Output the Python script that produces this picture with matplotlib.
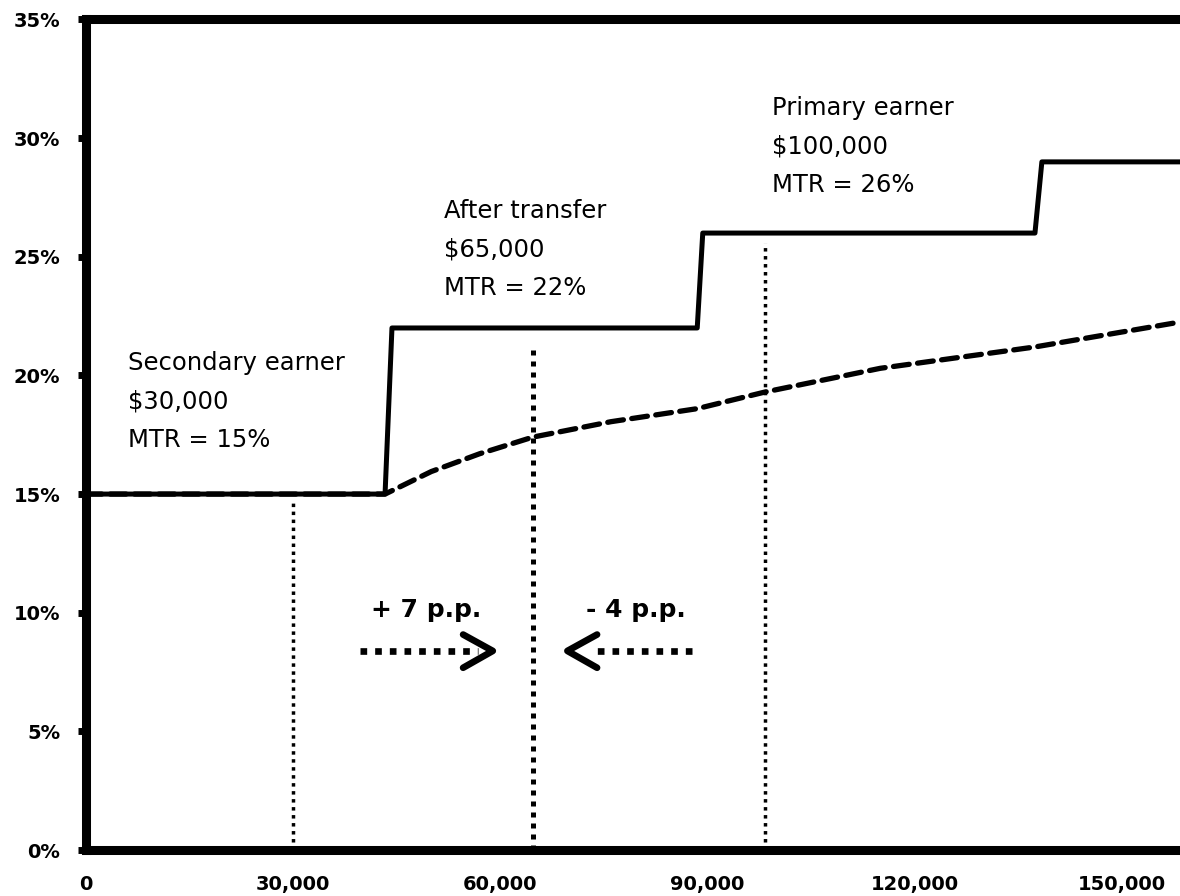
import matplotlib.pyplot as plt
from matplotlib.ticker import FuncFormatter

# marginal tax rate schedule (solid step line)
step_income = [0, 43300, 44300, 88500, 89300, 137400, 138400, 158400]
step_mtr = [15, 15, 22, 22, 26, 26, 29, 29]

# average tax rate (dashed line)
avg_income = [0, 43300, 50000, 57000, 64700, 76000, 88500, 98300, 115000, 137400, 158400]
avg_rate = [15, 15, 15.95, 16.7, 17.4, 18.05, 18.6, 19.3, 20.3, 21.2, 22.25]

# the three earners (dotted verticals) and their labels
earner_income = [30000, 64700, 98300]
earner_top = [14.8, 21.15, 25.6]
earner_text = [
    ["Secondary earner", "$30,000", "MTR = 15%"],
    ["After transfer", "$65,000", "MTR = 22%"],
    ["Primary earner", "$100,000", "MTR = 26%"],
]

x_ticks = [0, 30000, 60000, 90000, 120000, 150000]
y_ticks = [0, 5, 10, 15, 20, 25, 30, 35]

plt.rcParams['font.family'] = ['DejaVu Sans']

fig = plt.figure(figsize=(11.8, 8.96), dpi=100)
ax = fig.add_axes([86 / 1180, 1 - 850 / 896, 1 - 86 / 1180, (850 - 19.5) / 896])

ax.set_xlim(0, 158400)
ax.set_ylim(0, 35)

# dotted verticals
ax.plot([earner_income[0]] * 2, [0, earner_top[0]], color='black', lw=2.5,
        dashes=(1, 1.3), zorder=2)
ax.plot([earner_income[1]] * 2, [0, earner_top[1]], color='black', lw=3.6,
        dashes=(1, 1.2), zorder=2)
ax.plot([earner_income[2]] * 2, [0, earner_top[2]], color='black', lw=2.5,
        dashes=(1, 1.3), zorder=2)

# average rate
ax.plot(avg_income, avg_rate, color='black', lw=3.8, dashes=(3, 1.6),
        dash_capstyle='round', zorder=3)

# marginal rate
ax.plot(step_income, step_mtr, color='black', lw=3.6,
        solid_joinstyle='round', zorder=4)

# earner labels, one line at a time
label_pos = [(6100, 20.23), (51800, 26.63), (99300, 30.97)]
for (tx, ty), lines in zip(label_pos, earner_text):
    for i, line in enumerate(lines):
        ax.text(tx, ty - i * 1.63, line, fontsize=17.5, va='baseline', ha='left')

# arrows towards the transfer point
ax.plot([39700, 56700], [8.39, 8.39], color='black', lw=4.8, dashes=(1, 1.2),
        solid_capstyle='butt')
ax.plot([54600, 58900, 54600], [9.08, 8.39, 7.68], color='black', lw=4.8,
        solid_capstyle='round', solid_joinstyle='round')
ax.plot([87700, 74000], [8.39, 8.39], color='black', lw=4.8, dashes=(1, 1.2),
        solid_capstyle='butt')
ax.plot([74000, 69700, 74000], [9.08, 8.39, 7.68], color='black', lw=4.8,
        solid_capstyle='round', solid_joinstyle='round')

ax.text(49200, 9.82, "+ 7 p.p.", fontsize=18, fontweight='bold', ha='center', va='baseline')
ax.text(79600, 9.82, "- 4 p.p.", fontsize=18, fontweight='bold', ha='center', va='baseline')

# axes styling
for side in ['left', 'bottom', 'top']:
    ax.spines[side].set_linewidth(6.5)
ax.spines['right'].set_visible(False)

ax.set_xticks(x_ticks)
ax.set_xticklabels([f"{v:,}" for v in x_ticks])
ax.set_yticks(y_ticks)
ax.yaxis.set_major_formatter(FuncFormatter(lambda v, p: f"{v:.0f}%"))
ax.tick_params(axis='x', length=0, pad=18, labelsize=14)
ax.tick_params(axis='y', length=5.5, width=5, pad=13, labelsize=14)
for lab in ax.get_xticklabels() + ax.get_yticklabels():
    lab.set_fontweight('bold')

fig.savefig("out.png", dpi=100)
